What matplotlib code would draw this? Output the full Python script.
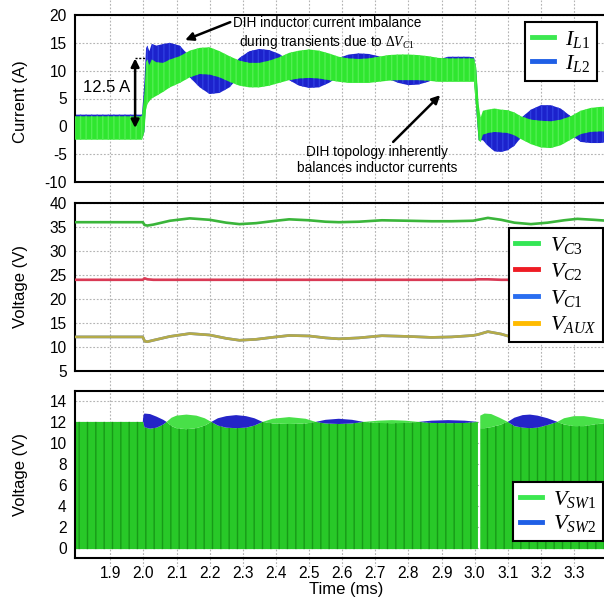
import numpy as np
import matplotlib
matplotlib.use("Agg")
import matplotlib.pyplot as plt
from matplotlib.lines import Line2D

plt.rcParams['font.family'] = ['Liberation Sans', 'DejaVu Sans']
plt.rcParams['axes.unicode_minus'] = False
plt.rcParams['mathtext.fontset'] = 'custom'
plt.rcParams['mathtext.rm'] = 'Liberation Serif'
plt.rcParams['mathtext.it'] = 'Liberation Serif:italic'
plt.rcParams['hatch.linewidth'] = 1.0

# ---------------- data ----------------
t_min, t_max = 1.7935, 3.3966
x_ticks = [1.9, 2.0, 2.1, 2.2, 2.3, 2.4, 2.5, 2.6, 2.7, 2.8, 2.9, 3.0, 3.1, 3.2, 3.3]
x_ticklabels = ['1.9', '2.0', '2.1', '2.2', '2.3', '2.4', '2.5', '2.6', '2.7',
                '2.8', '2.9', '3.0', '3.1', '3.2', '3.3']

# inductor current ripple envelopes (A)
t_il = [1.794, 1.996, 2.003, 2.008, 2.012, 2.018, 2.025, 2.04, 2.06, 2.08, 2.11,
        2.14, 2.17, 2.20, 2.23, 2.26, 2.29, 2.32, 2.35, 2.38, 2.41, 2.44, 2.47,
        2.50, 2.53, 2.56, 2.59, 2.62, 2.65, 2.68, 2.71, 2.74, 2.77, 2.80, 2.83,
        2.86, 2.89, 2.92, 2.95, 2.98, 2.998, 3.005, 3.012, 3.018, 3.025, 3.04,
        3.06, 3.08, 3.10, 3.12, 3.14, 3.17, 3.20, 3.23, 3.26, 3.29, 3.32, 3.35,
        3.38, 3.40]
il1_lo = [-2.4, -2.4, -1.0, 3.0, 4.0, 4.5, 5.0, 5.5, 6.2, 7.0, 7.8,
          8.8, 9.4, 9.3, 8.8, 8.0, 7.3, 7.0, 7.0, 7.3, 7.8, 8.3, 8.6,
          8.7, 8.6, 8.3, 8.0, 7.8, 7.8, 7.8, 8.0, 8.2, 8.3, 8.3, 8.3,
          8.2, 8.0, 8.0, 8.0, 8.0, 8.0, 3.0, -2.5, -2.8, -1.5, -1.2,
          -1.0, -1.1, -1.2, -1.6, -2.3, -3.2, -3.8, -3.9, -3.4, -2.4, -1.4, -1.0,
          -0.9, -0.9]
il1_hi = [1.8, 1.8, 6.0, 11.5, 12.0, 11.0, 12.0, 11.5, 11.4, 12.0, 12.6,
          13.6, 14.1, 14.2, 13.5, 12.6, 11.8, 11.4, 11.4, 11.8, 12.4, 13.2, 13.6,
          13.8, 13.6, 13.1, 12.5, 12.2, 12.1, 12.2, 12.5, 12.8, 12.9, 12.9, 12.8,
          12.6, 12.3, 12.2, 12.2, 12.2, 12.2, 10.5, 4.0, 1.5, 2.8, 3.0,
          3.2, 3.0, 2.9, 2.5, 1.8, 1.2, 1.0, 0.9, 1.2, 1.8, 2.8, 3.3,
          3.5, 3.5]
il2_lo = [-2.1, -2.1, -1.0, 5.0, 8.5, 9.5, 10.0, 10.5, 10.2, 10.5, 10.0,
          8.8, 7.0, 5.8, 6.0, 7.0, 9.0, 10.2, 10.4, 10.2, 9.5, 8.3, 7.3,
          6.9, 7.0, 7.8, 9.0, 9.8, 10.0, 9.9, 9.4, 8.5, 7.8, 7.4, 7.5,
          8.0, 8.8, 9.3, 9.4, 9.4, 9.3, 3.0, -2.5, -2.5, -2.5, -3.5,
          -4.5, -4.6, -4.3, -3.5, -2.0, -0.5, 0.8, 0.8, 0.0, -1.5, -2.8, -3.0,
          -3.0, -2.8]
il2_hi = [2.1, 2.1, 8.0, 14.0, 14.5, 13.5, 14.8, 14.5, 14.8, 15.0, 14.5,
          12.5, 10.5, 9.8, 9.8, 10.5, 12.3, 13.5, 13.9, 13.7, 13.0, 11.8, 10.5,
          10.0, 10.2, 11.0, 12.3, 12.9, 13.1, 13.0, 12.6, 11.8, 11.0, 10.6, 10.7,
          11.3, 12.0, 12.5, 12.5, 12.5, 12.4, 10.0, 3.0, 0.5, 0.0, -0.5,
          -1.0, -1.0, -0.8, 0.0, 1.5, 3.0, 3.8, 3.8, 3.2, 1.8, 0.3, -0.5,
          -0.8, -0.5]
step_before, step_after = -0.3, 12.2   # 12.5 A load step

# capacitor voltages (V)
t_v = [1.794, 1.998, 2.004, 2.012, 2.03, 2.08, 2.14, 2.20, 2.25, 2.29, 2.34,
       2.40, 2.44, 2.50, 2.55, 2.59, 2.65, 2.72, 2.80, 2.87, 2.93, 2.995, 3.01,
       3.04, 3.08, 3.12, 3.17, 3.22, 3.27, 3.31, 3.36, 3.40]
v_c3 = [36.0, 36.0, 35.4, 35.3, 35.5, 36.3, 36.8, 36.5, 35.9, 35.6, 35.8,
        36.3, 36.6, 36.4, 36.1, 36.0, 36.1, 36.4, 36.3, 36.2, 36.2, 36.3, 36.5,
        36.9, 36.5, 35.9, 35.6, 35.9, 36.4, 36.7, 36.5, 36.3]
v_c2 = [24.0, 24.0, 24.3, 24.1, 24.0, 24.0, 24.0, 24.0, 24.0, 24.0, 24.0,
        24.0, 24.0, 24.0, 24.0, 24.0, 24.0, 24.0, 24.0, 24.0, 24.0, 24.0, 24.1,
        24.1, 24.0, 24.0, 24.0, 24.0, 24.0, 24.0, 24.0, 24.0]
v_c1 = [12.1, 12.1, 11.2, 11.1, 11.4, 12.2, 12.8, 12.5, 11.8, 11.4, 11.6,
        12.1, 12.4, 12.3, 11.9, 11.7, 11.9, 12.35, 12.2, 12.0, 12.1, 12.4, 12.6,
        13.2, 12.7, 11.9, 11.4, 11.7, 12.2, 12.6, 12.4, 12.2]
v_aux = [12.1, 12.1, 11.2, 11.1, 11.4, 12.2, 12.8, 12.5, 11.8, 11.4, 11.6,
         12.1, 12.4, 12.3, 11.9, 11.7, 11.9, 12.35, 12.2, 12.0, 12.1, 12.4, 12.6,
         13.2, 12.7, 11.9, 11.4, 11.7, 12.2, 12.6, 12.4, 12.2]

# switch-node voltage high-level envelopes (V)
nan = float('nan')
t_sw = [1.794, 1.998, 2.000, 2.003, 2.02, 2.04, 2.06, 2.07, 2.085, 2.10, 2.13,
        2.16, 2.185, 2.205, 2.225, 2.25, 2.28, 2.31, 2.335, 2.36, 2.39, 2.44,
        2.49, 2.52, 2.55, 2.59, 2.63, 2.665, 2.71, 2.75, 2.79, 2.83, 2.87,
        2.92, 2.97, 3.010, 3.013, 3.017, 3.03, 3.05, 3.075, 3.10, 3.12, 3.145,
        3.167, 3.19, 3.22, 3.25, 3.27, 3.30, 3.33, 3.36, 3.40]
sw_lo = [12.0, 12.0, 12.0, 11.5, 11.35, 11.45, 11.75, 12.0, 11.6, 11.4, 11.3,
         11.4, 11.65, 12.0, 11.65, 11.45, 11.4, 11.45, 11.65, 12.0, 11.85, 11.8,
         11.85, 12.0, 11.85, 11.8, 11.85, 12.0, 11.9, 11.88, 11.9, 12.0, 11.9,
         11.88, 11.9, 12.0, nan, 11.4, 11.4, 11.5, 11.7, 12.0, 11.6, 11.45,
         11.4, 11.45, 11.7, 12.0, 11.75, 11.6, 11.6, 11.75, 11.9]
sw1_hi = [12.0, 12.0, 12.0, 11.5, 11.35, 11.45, 11.75, 12.0, 12.4, 12.6, 12.7,
          12.6, 12.35, 12.0, 11.65, 11.45, 11.4, 11.45, 11.65, 12.0, 12.3, 12.46,
          12.3, 12.0, 11.85, 11.8, 11.85, 12.0, 12.12, 12.17, 12.12, 12.0, 11.9,
          11.88, 11.9, 12.0, nan, 12.6, 12.8, 12.75, 12.4, 12.0, 11.6, 11.45,
          11.4, 11.45, 11.7, 12.0, 12.35, 12.55, 12.55, 12.4, 12.2]
sw2_hi = [12.0, 12.0, 12.6, 12.8, 12.75, 12.5, 12.2, 12.0, 11.6, 11.4, 11.3,
          11.4, 11.65, 12.0, 12.35, 12.55, 12.65, 12.55, 12.35, 12.0, 11.85, 11.8,
          11.85, 12.0, 12.2, 12.3, 12.2, 12.0, 11.9, 11.88, 11.9, 12.0, 12.12,
          12.17, 12.12, 12.0, nan, 11.4, 11.4, 11.5, 11.7, 12.0, 12.4, 12.65,
          12.7, 12.6, 12.35, 12.0, 11.75, 11.6, 11.6, 11.75, 11.9]
sw_low_level = -0.15

# ---------------- figure ----------------
W, H = 604, 597
fig = plt.figure(figsize=(W / 100, H / 100), dpi=100)


def box(l, t, r, b):
    return [l / W, 1 - b / H, (r - l) / W, (b - t) / H]


XL, XR = 75, 606
grid_kw = dict(color='#b4b4b4', lw=0.8, ls=(0, (1.6, 1.6)))

ax_bg = fig.add_axes(box(XL, 0, XR, 567))
ax_bg.set_zorder(-1)
ax_bg.set_xlim(t_min, t_max)
ax_bg.axis('off')
for xt in x_ticks:
    ax_bg.axvline(xt, **grid_kw)

ax1 = fig.add_axes(box(XL, 15, XR, 182))
ax2 = fig.add_axes(box(XL, 203, XR, 371))
ax3 = fig.add_axes(box(XL, 390.5, XR, 558))

for ax in (ax1, ax2, ax3):
    ax.set_facecolor('white')
    ax.set_xlim(t_min, t_max)
    ax.set_xticks(x_ticks)
    ax.grid(True, **grid_kw)
    ax.set_axisbelow(True)
    ax.tick_params(length=0, labelsize=11.2, pad=6)
    for s in ax.spines.values():
        s.set_linewidth(1.5)
ax1.set_xticklabels([])
ax2.set_xticklabels([])
ax3.set_xticklabels(x_ticklabels)

# --- inductor currents ---
ax1.fill_between(t_il, il2_lo, il2_hi, facecolor='#1c22cc', edgecolor='#2f3ee0',
                 hatch='|||', lw=0, zorder=2)
ax1.fill_between(t_il, il1_lo, il1_hi, facecolor='#2fe62f', edgecolor='#52ee52',
                 hatch='|||', lw=0, zorder=3)
ax1.set_ylim(-10, 20)
ax1.set_yticks([-10, -5, 0, 5, 10, 15, 20])
ax1.set_ylabel('Current (A)', fontsize=12)
ax1.yaxis.set_label_coords(-0.088, 0.48)

x_step_arrow = 1.975
ax1.annotate('', xy=(x_step_arrow, step_after), xytext=(x_step_arrow, step_before),
             arrowprops=dict(arrowstyle='<|-|>', color='black', lw=1.8,
                             mutation_scale=12, shrinkA=0, shrinkB=0), zorder=5)
ax1.plot([x_step_arrow, 2.006], [step_after, step_after], color='black', lw=1.0,
         ls=(0, (1.5, 1.2)), zorder=5)
ax1.text(1.888, 7.0, '12.5 A', fontsize=12, ha='center', va='center', zorder=5)

ax1.annotate('DIH inductor current imbalance\nduring transients due to $\\Delta \\mathit{V}_{\\mathit{C1}}$',
             xy=(2.126, 15.5), xytext=(2.555, 16.7), fontsize=9.8, ha='center', va='center',
             linespacing=1.25,
             arrowprops=dict(arrowstyle='-|>', color='black', lw=1.8, mutation_scale=12,
                             shrinkA=0, shrinkB=0, relpos=(0.0, 0.85)), zorder=5)
ax1.annotate('', xy=(2.896, 5.6), xytext=(2.754, -2.8),
             arrowprops=dict(arrowstyle='-|>', color='black', lw=1.8, mutation_scale=12,
                             shrinkA=0, shrinkB=0), zorder=5)
ax1.text(2.706, -6.05, 'DIH topology inherently\nbalances inductor currents',
         fontsize=9.8, ha='center', va='center', linespacing=1.25, zorder=5)

leg_kw = dict(frameon=True, fancybox=False, framealpha=1, edgecolor='black',
              borderaxespad=0, handlelength=1.0, handletextpad=0.5,
              borderpad=0.3, labelspacing=0.15)
h1 = [Line2D([], [], color='#3ce850', lw=3.5), Line2D([], [], color='#1f5fe6', lw=3.5)]
lg = ax1.legend(h1, ['$\\mathit{I}_{\\mathit{L1}}$', '$\\mathit{I}_{\\mathit{L2}}$'],
                loc='upper right', bbox_to_anchor=(0.983, 0.958), prop={'size': 16}, **leg_kw)
lg.get_frame().set_linewidth(1.5)
lg.set_zorder(10)

# --- capacitor voltages ---
ax2.plot(t_v, v_c3, color='#3ab53a', lw=1.9, zorder=3)
ax2.plot(t_v, v_c2, color='#d93a55', lw=1.9, zorder=3)
ax2.plot(t_v, v_c1, color='#2a55c8', lw=1.9, zorder=3)
ax2.plot(t_v, v_aux, color='#d8c22a', lw=1.9, alpha=0.8, zorder=4)
ax2.set_ylim(5, 40)
ax2.set_yticks([5, 10, 15, 20, 25, 30, 35, 40])
ax2.set_ylabel('Voltage (V)', fontsize=12)
ax2.yaxis.set_label_coords(-0.088, 0.5)
h2 = [Line2D([], [], color=c, lw=3.5) for c in ('#33e655', '#ee1c24', '#2a6ef0', '#ffbb00')]
leg_kw2 = dict(leg_kw, labelspacing=0.25, handletextpad=0.55)
lg = ax2.legend(h2, ['$\\mathit{V}_{\\mathit{C3}}$', '$\\mathit{V}_{\\mathit{C2}}$',
                     '$\\mathit{V}_{\\mathit{C1}}$', '$\\mathit{V}_{\\mathit{AUX}}$'],
                loc='upper right', bbox_to_anchor=(0.994, 0.851), prop={'size': 16}, **leg_kw2)
lg.get_frame().set_linewidth(1.5)
lg.set_zorder(10)

# --- switch-node voltages ---
ax3.fill_between(t_sw, sw_low_level, sw_lo, facecolor='#28c828', edgecolor='#179a17',
                 hatch='||', lw=0, zorder=2)
ax3.fill_between(t_sw, sw_lo, sw2_hi, color='#2424c8', lw=0, zorder=3)
ax3.fill_between(t_sw, sw_lo, sw1_hi, color='#48e048', lw=0, zorder=4)
ax3.set_ylim(-1, 15)
ax3.set_yticks([0, 2, 4, 6, 8, 10, 12, 14])
ax3.set_ylabel('Voltage (V)', fontsize=12)
ax3.yaxis.set_label_coords(-0.088, 0.5)
ax3.set_xlabel('Time (ms)', fontsize=12)
ax3.xaxis.set_label_coords(0.51, -0.145)
h3 = [Line2D([], [], color='#3ce850', lw=3.5), Line2D([], [], color='#1f5fe6', lw=3.5)]
lg = ax3.legend(h3, ['$\\mathit{V}_{\\mathit{SW1}}$', '$\\mathit{V}_{\\mathit{SW2}}$'],
                loc='lower right', bbox_to_anchor=(0.994, 0.101), prop={'size': 16}, **leg_kw)
lg.get_frame().set_linewidth(1.5)
lg.set_zorder(10)

fig.savefig('out.png', dpi=100)
